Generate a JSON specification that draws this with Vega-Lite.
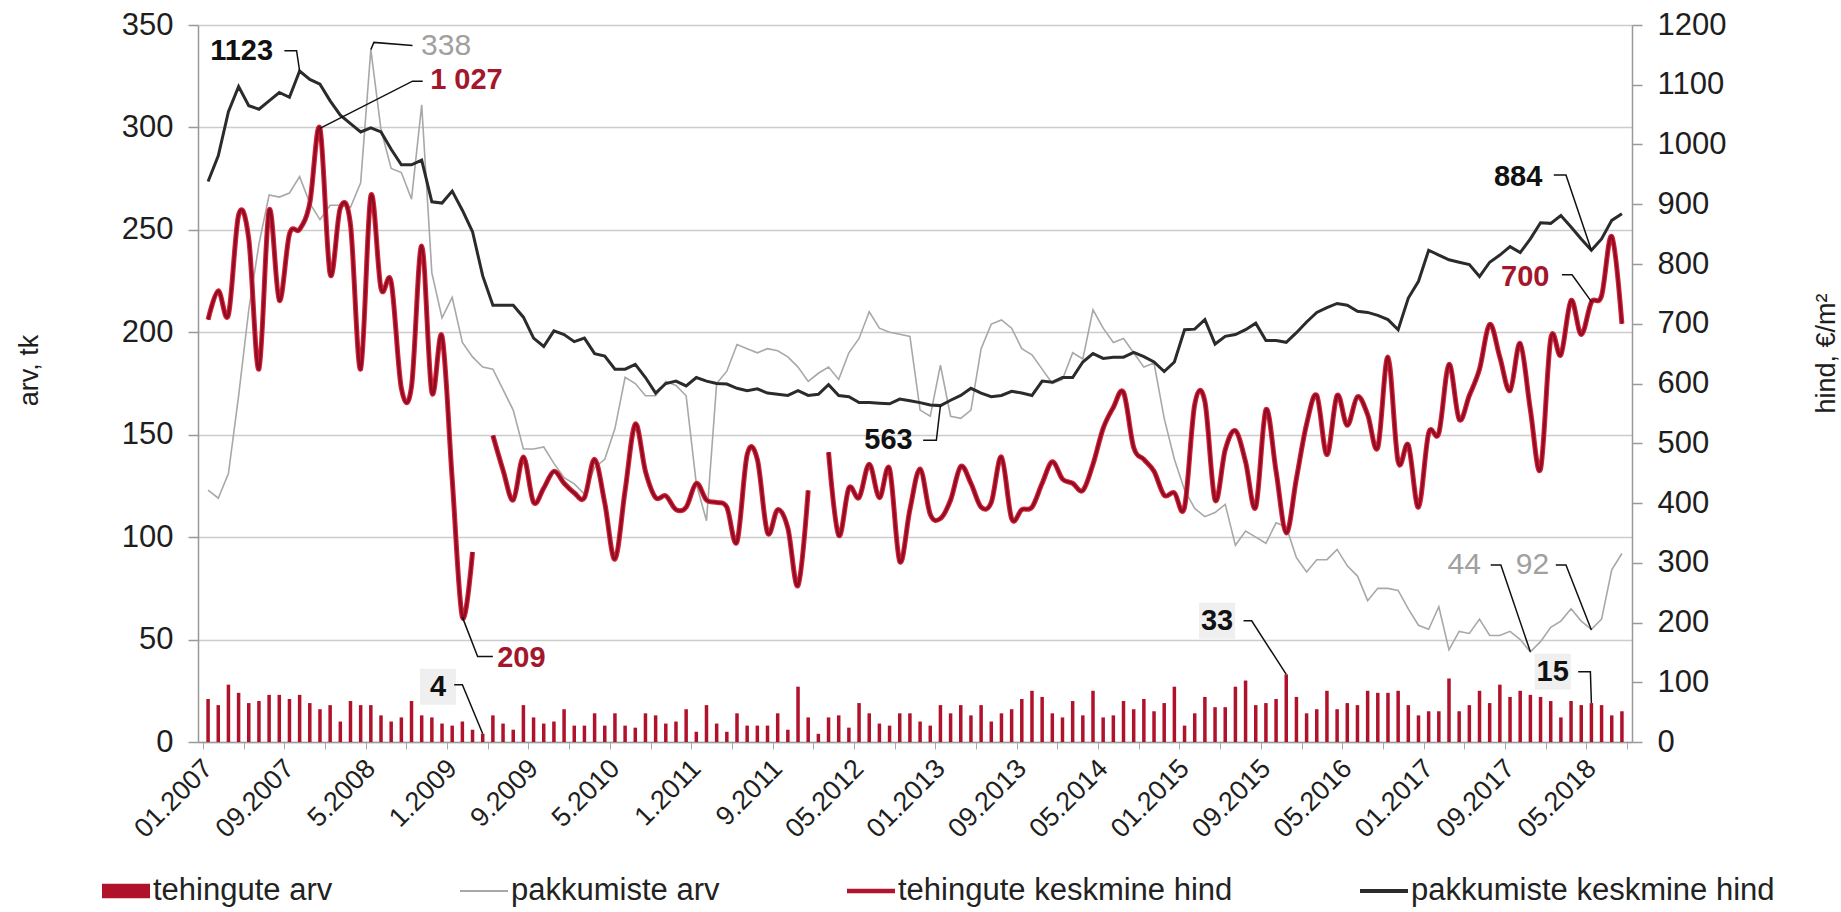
{
"$schema": "https://vega.github.io/schema/vega-lite/v6.json",
"width": 1434, "height": 717,
"autosize": {"type": "none"},
"padding": {"left": 198, "top": 25, "right": 209, "bottom": 170},
"background": "#ffffff",
"config": {
  "view": {"stroke": null},
  "font": "Liberation Sans",
  "axis": {"labelFont": "Liberation Sans", "titleFont": "Liberation Sans", "labelColor": "#1e1e1e", "titleColor": "#1e1e1e", "titleFontWeight": "normal"}
},
"datasets": {
"main": [
{"i":0,"b":21,"g":123,"r":707,"k":938},{"i":1,"b":18,"g":119,"r":755,"k":981},{"i":2,"b":28,"g":131,"r":715,"k":1055},{"i":3,"b":24,"g":169,"r":882,"k":1097},{"i":4,"b":19,"g":211,"r":842,"k":1065},{"i":5,"b":20,"g":243,"r":624,"k":1059},{"i":6,"b":23,"g":267,"r":890,"k":1073},{"i":7,"b":23,"g":266,"r":739,"k":1087},{"i":8,"b":21,"g":268,"r":850,"k":1079},{"i":9,"b":23,"g":276,"r":858,"k":1123},
{"i":10,"b":19,"g":263,"r":902,"k":1109},{"i":11,"b":16,"g":255,"r":1027,"k":1101},{"i":12,"b":18,"g":262,"r":783,"k":1073},{"i":13,"b":10,"g":262,"r":894,"k":1049},{"i":14,"b":20,"g":261,"r":866,"k":1035},{"i":15,"b":18,"g":273,"r":624,"k":1021},{"i":16,"b":18,"g":338,"r":914,"k":1028},{"i":17,"b":13,"g":299,"r":759,"k":1021},{"i":18,"b":10,"g":280,"r":770,"k":992},{"i":19,"b":12,"g":278,"r":592,"k":966},
{"i":20,"b":20,"g":265,"r":595,"k":966},{"i":21,"b":13,"g":311,"r":830,"k":974},{"i":22,"b":12,"g":229,"r":585,"k":904},{"i":23,"b":9,"g":207,"r":679,"k":902},{"i":24,"b":8,"g":217,"r":440,"k":922},{"i":25,"b":10,"g":195,"r":209,"k":890},{"i":26,"b":6,"g":188,"r":318,"k":854},{"i":27,"b":4,"g":183,"r":null,"k":780},{"i":28,"b":13,"g":182,"r":513,"k":731},{"i":29,"b":9,"g":172,"r":455,"k":731},
{"i":30,"b":6,"g":162,"r":405,"k":731},{"i":31,"b":18,"g":143,"r":477,"k":711},{"i":32,"b":12,"g":143,"r":401,"k":676},{"i":33,"b":9,"g":144,"r":425,"k":662},{"i":34,"b":10,"g":136,"r":453,"k":688},{"i":35,"b":16,"g":129,"r":433,"k":682},{"i":36,"b":8,"g":126,"r":417,"k":670},{"i":37,"b":8,"g":121,"r":409,"k":676},{"i":38,"b":14,"g":134,"r":473,"k":650},{"i":39,"b":8,"g":138,"r":400,"k":646},
{"i":40,"b":14,"g":153,"r":306,"k":624},{"i":41,"b":8,"g":178,"r":421,"k":624},{"i":42,"b":7,"g":175,"r":532,"k":632},{"i":43,"b":14,"g":169,"r":453,"k":610},{"i":44,"b":13,"g":169,"r":409,"k":584},{"i":45,"b":9,"g":176,"r":412,"k":600},{"i":46,"b":10,"g":174,"r":389,"k":604},{"i":47,"b":16,"g":169,"r":393,"k":596},{"i":48,"b":5,"g":126,"r":433,"k":610},{"i":49,"b":18,"g":108,"r":405,"k":604},
{"i":50,"b":9,"g":175,"r":401,"k":600},{"i":51,"b":5,"g":181,"r":393,"k":599},{"i":52,"b":14,"g":194,"r":335,"k":592},{"i":53,"b":8,"g":192,"r":481,"k":588},{"i":54,"b":8,"g":190,"r":473,"k":591},{"i":55,"b":8,"g":192,"r":350,"k":584},{"i":56,"b":14,"g":191,"r":389,"k":582},{"i":57,"b":6,"g":188,"r":358,"k":580},{"i":58,"b":27,"g":183,"r":262,"k":588},{"i":59,"b":12,"g":176,"r":421,"k":580},
{"i":60,"b":4,"g":180,"r":null,"k":582},{"i":61,"b":12,"g":183,"r":485,"k":598},{"i":62,"b":13,"g":177,"r":346,"k":580},{"i":63,"b":7,"g":190,"r":425,"k":578},{"i":64,"b":19,"g":197,"r":409,"k":568},{"i":65,"b":14,"g":210,"r":465,"k":568},{"i":66,"b":9,"g":202,"r":409,"k":567},{"i":67,"b":8,"g":200,"r":457,"k":566},{"i":68,"b":14,"g":199,"r":302,"k":574},{"i":69,"b":14,"g":198,"r":389,"k":571},
{"i":70,"b":10,"g":162,"r":457,"k":568},{"i":71,"b":8,"g":159,"r":381,"k":564},{"i":72,"b":18,"g":184,"r":374,"k":563},{"i":73,"b":14,"g":159,"r":405,"k":572},{"i":74,"b":18,"g":158,"r":461,"k":580},{"i":75,"b":13,"g":162,"r":433,"k":592},{"i":76,"b":18,"g":192,"r":393,"k":584},{"i":77,"b":10,"g":204,"r":401,"k":578},{"i":78,"b":14,"g":206,"r":477,"k":580},{"i":79,"b":16,"g":202,"r":374,"k":587},
{"i":80,"b":21,"g":192,"r":389,"k":584},{"i":81,"b":25,"g":189,"r":393,"k":580},{"i":82,"b":22,"g":182,"r":433,"k":604},{"i":83,"b":14,"g":175,"r":469,"k":602},{"i":84,"b":12,"g":177,"r":440,"k":610},{"i":85,"b":20,"g":190,"r":433,"k":610},{"i":86,"b":13,"g":187,"r":421,"k":636},{"i":87,"b":25,"g":211,"r":465,"k":650},{"i":88,"b":12,"g":202,"r":525,"k":642},{"i":89,"b":13,"g":195,"r":560,"k":644},
{"i":90,"b":20,"g":197,"r":585,"k":644},{"i":91,"b":16,"g":190,"r":493,"k":652},{"i":92,"b":21,"g":183,"r":473,"k":645},{"i":93,"b":15,"g":185,"r":453,"k":636},{"i":94,"b":19,"g":158,"r":413,"k":620},{"i":95,"b":27,"g":138,"r":417,"k":636},{"i":96,"b":8,"g":123,"r":393,"k":690},{"i":97,"b":14,"g":114,"r":565,"k":691},{"i":98,"b":22,"g":110,"r":570,"k":707},{"i":99,"b":17,"g":112,"r":405,"k":666},
{"i":100,"b":17,"g":116,"r":489,"k":679},{"i":101,"b":27,"g":96,"r":521,"k":682},{"i":102,"b":30,"g":103,"r":469,"k":690},{"i":103,"b":18,"g":100,"r":393,"k":701},{"i":104,"b":19,"g":97,"r":556,"k":672},{"i":105,"b":21,"g":107,"r":453,"k":672},{"i":106,"b":33,"g":105,"r":350,"k":669},{"i":107,"b":22,"g":90,"r":441,"k":685},{"i":108,"b":14,"g":83,"r":532,"k":703},{"i":109,"b":16,"g":89,"r":580,"k":719},
{"i":110,"b":25,"g":89,"r":481,"k":727},{"i":111,"b":16,"g":94,"r":580,"k":734},{"i":112,"b":19,"g":86,"r":530,"k":731},{"i":113,"b":18,"g":81,"r":578,"k":721},{"i":114,"b":25,"g":69,"r":548,"k":719},{"i":115,"b":24,"g":75,"r":493,"k":714},{"i":116,"b":24,"g":75,"r":644,"k":707},{"i":117,"b":25,"g":74,"r":469,"k":690},{"i":118,"b":18,"g":65,"r":497,"k":743},{"i":119,"b":13,"g":57,"r":393,"k":771},
{"i":120,"b":15,"g":55,"r":517,"k":823},{"i":121,"b":15,"g":66,"r":517,"k":815},{"i":122,"b":31,"g":45,"r":632,"k":807},{"i":123,"b":15,"g":54,"r":540,"k":803},{"i":124,"b":18,"g":53,"r":580,"k":799},{"i":125,"b":25,"g":60,"r":624,"k":779},{"i":126,"b":19,"g":52,"r":699,"k":803},{"i":127,"b":28,"g":52,"r":644,"k":815},{"i":128,"b":22,"g":54,"r":588,"k":829},{"i":129,"b":25,"g":50,"r":667,"k":819},
{"i":130,"b":23,"g":44,"r":556,"k":842},{"i":131,"b":22,"g":49,"r":457,"k":869},{"i":132,"b":20,"g":56,"r":675,"k":868},{"i":133,"b":12,"g":59,"r":648,"k":881},{"i":134,"b":20,"g":65,"r":739,"k":862},{"i":135,"b":18,"g":59,"r":682,"k":842},{"i":136,"b":19,"g":55,"r":736,"k":823},{"i":137,"b":18,"g":60,"r":747,"k":842},{"i":138,"b":13,"g":84,"r":846,"k":873},{"i":139,"b":15,"g":92,"r":700,"k":884}
],
"annL": [
{"x":23.4,"y":339.7,"t":"338","ser":"pakkumiste arv"},
{"x":123.5,"y":86.4,"t":"44","ser":"pakkumiste arv"},
{"x":130.2,"y":86.4,"t":"92","ser":"pakkumiste arv"},
{"x":22.6,"y":27,"t":"4","ser":"tehingute arv"},
{"x":99.2,"y":59.2,"t":"33","ser":"tehingute arv"},
{"x":132.2,"y":34.3,"t":"15","ser":"tehingute arv"}
],
"annR": [
{"x":3.3,"y":1157,"t":"1123","ser":"pakkumiste keskmine hind"},
{"x":66.9,"y":505,"t":"563","ser":"pakkumiste keskmine hind"},
{"x":128.8,"y":946,"t":"884","ser":"pakkumiste keskmine hind"},
{"x":25.4,"y":1108,"t":"1 027","ser":"tehingute keskmine hind"},
{"x":30.8,"y":140,"t":"209","ser":"tehingute keskmine hind"},
{"x":129.5,"y":779,"t":"700","ser":"tehingute keskmine hind"}
],
"leadL": [
{"id":"338","o":0,"x":16,"y":338},{"id":"338","o":1,"x":16.3,"y":341.5},{"id":"338","o":2,"x":20.1,"y":340},
{"id":"44","o":0,"x":126.1,"y":86.4},{"id":"44","o":1,"x":127.1,"y":86.4},{"id":"44","o":2,"x":130,"y":44},
{"id":"92","o":0,"x":132.5,"y":86.4},{"id":"92","o":1,"x":133.5,"y":86.4},{"id":"92","o":2,"x":136,"y":54.7},
{"id":"4","o":0,"x":24.2,"y":28},{"id":"4","o":1,"x":25,"y":28},{"id":"4","o":2,"x":27,"y":4},
{"id":"33","o":0,"x":101.8,"y":59.2},{"id":"33","o":1,"x":102.6,"y":59.2},{"id":"33","o":2,"x":106,"y":33},
{"id":"15","o":0,"x":134.7,"y":34.3},{"id":"15","o":1,"x":135.9,"y":34.3},{"id":"15","o":2,"x":136,"y":19}
],
"leadR": [
{"id":"1123","o":0,"x":7.5,"y":1157},{"id":"1123","o":1,"x":8.7,"y":1157},{"id":"1123","o":2,"x":9,"y":1123},
{"id":"1027","o":0,"x":11,"y":1027},{"id":"1027","o":1,"x":20.1,"y":1106},{"id":"1027","o":2,"x":21.1,"y":1106},
{"id":"209","o":0,"x":25,"y":209},{"id":"209","o":1,"x":26.5,"y":143},{"id":"209","o":2,"x":28,"y":143},
{"id":"563","o":0,"x":70.3,"y":505},{"id":"563","o":1,"x":71.6,"y":505},{"id":"563","o":2,"x":72,"y":563},
{"id":"884","o":0,"x":132.3,"y":949},{"id":"884","o":1,"x":133.5,"y":949},{"id":"884","o":2,"x":136,"y":823},
{"id":"700","o":0,"x":133.1,"y":782},{"id":"700","o":1,"x":134.1,"y":782},{"id":"700","o":2,"x":136,"y":737}
],
"leg": [{"s":"tehingute arv"},{"s":"pakkumiste arv"},{"s":"tehingute keskmine hind"},{"s":"pakkumiste keskmine hind"}]
},
"layer": [
{
 "layer": [
  {"data": {"name": "main"},
   "mark": {"type": "bar", "width": 3.5, "color": "#b0112b"},
   "encoding": {
    "x": {"field": "i", "type": "quantitative", "title": null, "scale": {"domain": [-0.5, 139.5], "nice": false, "zero": false},
      "axis": {"orient": "bottom", "title": null, "labels": false, "grid": false, "ticks": true, "tickSize": 7, "tickColor": "#aaaaaa", "tickWidth": 1, "domain": true, "domainColor": "#999999", "domainWidth": 1.5,
        "values": [-0.5,0.5,1.5,2.5,3.5,4.5,5.5,6.5,7.5,8.5,9.5,10.5,11.5,12.5,13.5,14.5,15.5,16.5,17.5,18.5,19.5,20.5,21.5,22.5,23.5,24.5,25.5,26.5,27.5,28.5,29.5,30.5,31.5,32.5,33.5,34.5,35.5,36.5,37.5,38.5,39.5,40.5,41.5,42.5,43.5,44.5,45.5,46.5,47.5,48.5,49.5,50.5,51.5,52.5,53.5,54.5,55.5,56.5,57.5,58.5,59.5,60.5,61.5,62.5,63.5,64.5,65.5,66.5,67.5,68.5,69.5,70.5,71.5,72.5,73.5,74.5,75.5,76.5,77.5,78.5,79.5,80.5,81.5,82.5,83.5,84.5,85.5,86.5,87.5,88.5,89.5,90.5,91.5,92.5,93.5,94.5,95.5,96.5,97.5,98.5,99.5,100.5,101.5,102.5,103.5,104.5,105.5,106.5,107.5,108.5,109.5,110.5,111.5,112.5,113.5,114.5,115.5,116.5,117.5,118.5,119.5,120.5,121.5,122.5,123.5,124.5,125.5,126.5,127.5,128.5,129.5,130.5,131.5,132.5,133.5,134.5,135.5,136.5,137.5,138.5,139.5]}},
    "y": {"field": "b", "type": "quantitative", "title": "arv, tk", "scale": {"domain": [0, 350], "nice": false},
      "axis": {"orient": "left", "values": [0,50,100,150,200,250,300,350], "format": "d", "grid": true, "gridColor": "#cccccc", "gridWidth": 1.5, "domain": true, "domainColor": "#999999", "domainWidth": 1.5, "ticks": true, "tickSize": 10, "tickColor": "#999999", "tickWidth": 1.5, "labelFontSize": 31, "labelPadding": 15, "titleFontSize": 27, "titleAngle": -90, "titleX": -169, "titleY": 345, "titleAlign": "center", "titleBaseline": "middle"}}
   }},
  {"data": {"name": "main"},
   "mark": {"type": "line", "color": "#a8a8a8", "strokeWidth": 1.6},
   "encoding": {
    "x": {"field": "i", "type": "quantitative", "title": null, "scale": {"domain": [-0.5, 139.5], "nice": false, "zero": false}},
    "y": {"field": "g", "type": "quantitative", "title": "arv, tk", "scale": {"domain": [0, 350], "nice": false}}
   }},
  {"data": {"name": "annL"},
   "transform": [{"filter": "datum.ser == 'tehingute arv'"}],
   "mark": {"type": "point", "shape": "square", "size": 1300, "filled": true, "color": "#efefef", "opacity": 1},
   "encoding": {
    "x": {"field": "x", "type": "quantitative", "title": null, "scale": {"domain": [-0.5, 139.5], "nice": false, "zero": false}},
    "y": {"field": "y", "type": "quantitative", "title": "arv, tk", "scale": {"domain": [0, 350], "nice": false}}
   }},
  {"data": {"name": "leadL"},
   "mark": {"type": "line", "color": "#111111", "strokeWidth": 1.5},
   "encoding": {
    "x": {"field": "x", "type": "quantitative", "title": null, "scale": {"domain": [-0.5, 139.5], "nice": false, "zero": false}},
    "y": {"field": "y", "type": "quantitative", "title": "arv, tk", "scale": {"domain": [0, 350], "nice": false}},
    "detail": {"field": "id"},
    "order": {"field": "o"}
   }},
  {"data": {"name": "annL"},
   "transform": [{"filter": "datum.ser == 'pakkumiste arv'"}],
   "mark": {"type": "text", "font": "Liberation Sans", "fontSize": 30, "color": "#a0a0a0", "align": "center", "baseline": "middle"},
   "encoding": {
    "x": {"field": "x", "type": "quantitative", "title": null, "scale": {"domain": [-0.5, 139.5], "nice": false, "zero": false}},
    "y": {"field": "y", "type": "quantitative", "title": "arv, tk", "scale": {"domain": [0, 350], "nice": false}},
    "text": {"field": "t"}
   }},
  {"data": {"name": "annL"},
   "transform": [{"filter": "datum.ser == 'tehingute arv'"}],
   "mark": {"type": "text", "font": "Liberation Sans", "fontSize": 29, "fontWeight": "bold", "color": "#111111", "align": "center", "baseline": "middle"},
   "encoding": {
    "x": {"field": "x", "type": "quantitative", "title": null, "scale": {"domain": [-0.5, 139.5], "nice": false, "zero": false}},
    "y": {"field": "y", "type": "quantitative", "title": "arv, tk", "scale": {"domain": [0, 350], "nice": false}},
    "text": {"field": "t"}
   }}
 ]
},
{
 "layer": [
  {"data": {"name": "main"},
   "mark": {"type": "line", "color": "#d42236", "strokeWidth": 5, "interpolate": "cardinal", "invalid": "break-paths-show-domains"},
   "encoding": {
    "x": {"field": "i", "type": "quantitative", "title": null, "scale": {"domain": [-0.5, 139.5], "nice": false, "zero": false},
      "axis": {"orient": "bottom", "title": null, "values": [0,8,16,24,32,40,48,56,64,72,80,88,96,104,112,120,128,136], "ticks": false, "domain": false, "grid": false, "labelAngle": -45, "labelAlign": "right", "labelBaseline": "middle", "labelPadding": 22, "labelFontSize": 27, "labelOverlap": false, "labelBound": false, "labelFlush": false,
        "labelExpr": "['01.2007','09.2007','5.2008','1.2009','9.2009','5.2010','1.2011','9.2011','05.2012','01.2013','09.2013','05.2014','01.2015','09.2015','05.2016','01.2017','09.2017','05.2018'][round(datum.value/8)]"}},
    "y": {"field": "r", "type": "quantitative", "title": "hind, €/m²", "scale": {"domain": [0, 1200], "nice": false},
      "axis": {"orient": "right", "values": [0,100,200,300,400,500,600,700,800,900,1000,1100,1200], "format": "d", "grid": false, "domain": true, "domainColor": "#999999", "domainWidth": 1.5, "ticks": true, "tickSize": 10, "tickColor": "#999999", "tickWidth": 1.5, "labelFontSize": 31, "labelPadding": 15, "titleFontSize": 27, "titleAngle": -90, "titleX": 194, "titleY": 328, "titleAlign": "center", "titleBaseline": "middle"}}
   }},
  {"data": {"name": "main"},
   "mark": {"type": "line", "color": "#8f0d24", "strokeWidth": 2.6, "interpolate": "cardinal", "invalid": "break-paths-show-domains"},
   "encoding": {
    "x": {"field": "i", "type": "quantitative", "title": null, "scale": {"domain": [-0.5, 139.5], "nice": false, "zero": false}},
    "y": {"field": "r", "type": "quantitative", "title": "hind, €/m²", "scale": {"domain": [0, 1200], "nice": false}}
   }},
  {"data": {"name": "main"},
   "mark": {"type": "line", "color": "#2b2b2b", "strokeWidth": 3},
   "encoding": {
    "x": {"field": "i", "type": "quantitative", "title": null, "scale": {"domain": [-0.5, 139.5], "nice": false, "zero": false}},
    "y": {"field": "k", "type": "quantitative", "title": "hind, €/m²", "scale": {"domain": [0, 1200], "nice": false}}
   }},
  {"data": {"name": "leadR"},
   "mark": {"type": "line", "color": "#111111", "strokeWidth": 1.5},
   "encoding": {
    "x": {"field": "x", "type": "quantitative", "title": null, "scale": {"domain": [-0.5, 139.5], "nice": false, "zero": false}},
    "y": {"field": "y", "type": "quantitative", "title": "hind, €/m²", "scale": {"domain": [0, 1200], "nice": false}},
    "detail": {"field": "id"},
    "order": {"field": "o"}
   }},
  {"data": {"name": "annR"},
   "transform": [{"filter": "datum.ser == 'pakkumiste keskmine hind'"}],
   "mark": {"type": "text", "font": "Liberation Sans", "fontSize": 29, "fontWeight": "bold", "color": "#111111", "align": "center", "baseline": "middle"},
   "encoding": {
    "x": {"field": "x", "type": "quantitative", "title": null, "scale": {"domain": [-0.5, 139.5], "nice": false, "zero": false}},
    "y": {"field": "y", "type": "quantitative", "title": "hind, €/m²", "scale": {"domain": [0, 1200], "nice": false}},
    "text": {"field": "t"}
   }},
  {"data": {"name": "annR"},
   "transform": [{"filter": "datum.ser == 'tehingute keskmine hind'"}],
   "mark": {"type": "text", "font": "Liberation Sans", "fontSize": 29, "fontWeight": "bold", "color": "#a3162b", "align": "center", "baseline": "middle"},
   "encoding": {
    "x": {"field": "x", "type": "quantitative", "title": null, "scale": {"domain": [-0.5, 139.5], "nice": false, "zero": false}},
    "y": {"field": "y", "type": "quantitative", "title": "hind, €/m²", "scale": {"domain": [0, 1200], "nice": false}},
    "text": {"field": "t"}
   }}
 ]
},
{
 "data": {"name": "leg"},
 "mark": {"type": "point", "filled": true, "opacity": 0},
 "encoding": {
  "color": {"field": "s", "type": "nominal",
    "scale": {"domain": ["tehingute arv", "pakkumiste arv", "tehingute keskmine hind", "pakkumiste keskmine hind"], "range": ["#b0112b", "#a8a8a8", "#b0152d", "#2b2b2b"]},
    "legend": {"title": null, "orient": "none", "legendX": -96, "legendY": 842, "direction": "horizontal", "columns": 4, "columnPadding": 127, "symbolSize": 2304, "symbolStrokeWidth": 0, "symbolOpacity": 1, "labelFont": "Liberation Sans", "labelFontSize": 31, "labelColor": "#222222", "labelOffset": 3, "labelLimit": 600, "padding": 0}},
  "shape": {"field": "s", "type": "nominal",
    "scale": {"domain": ["tehingute arv", "pakkumiste arv", "tehingute keskmine hind", "pakkumiste keskmine hind"], "range": ["M-1,-0.3H1V0.3H-1Z", "M-1,-0.04H1V0.04H-1Z", "M-1,-0.09H1V0.09H-1Z", "M-1,-0.08H1V0.08H-1Z"]},
    "legend": {"title": null, "orient": "none", "legendX": -96, "legendY": 842, "direction": "horizontal", "columns": 4, "columnPadding": 127, "symbolSize": 2304, "symbolStrokeWidth": 0, "symbolOpacity": 1, "labelFont": "Liberation Sans", "labelFontSize": 31, "labelColor": "#222222", "labelOffset": 3, "labelLimit": 600, "padding": 0}}
 }
}
],
"resolve": {"scale": {"y": "independent"}, "axis": {"x": "independent", "y": "independent"}}
}
